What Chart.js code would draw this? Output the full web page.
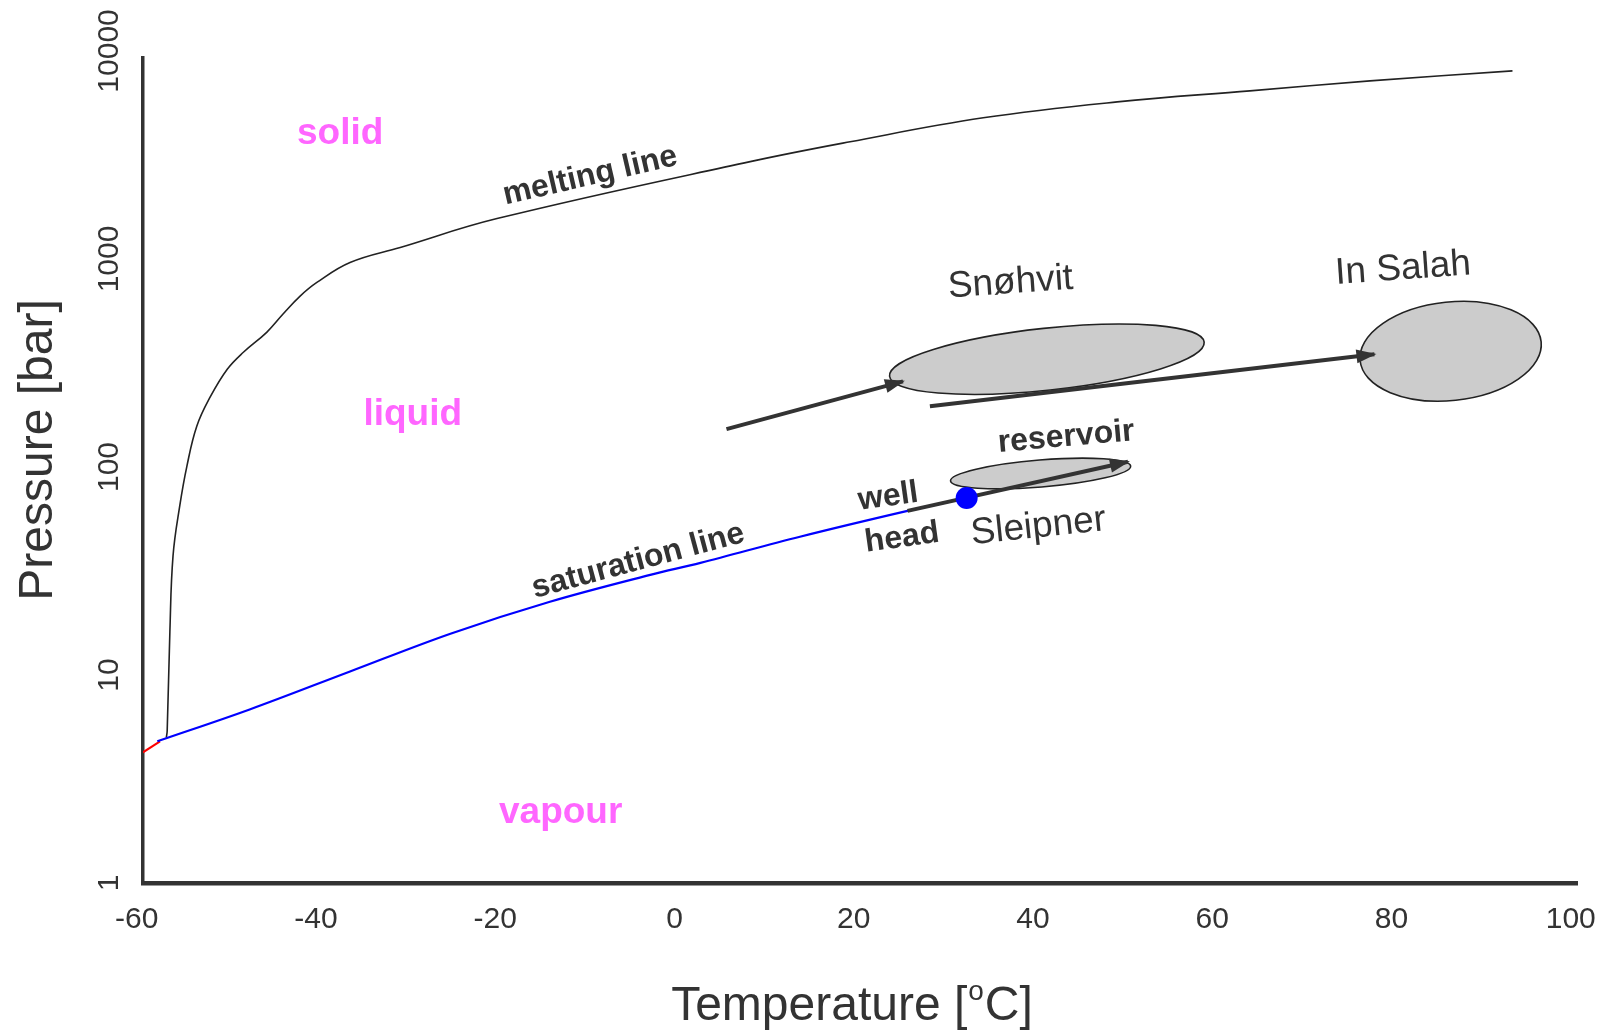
<!DOCTYPE html>
<html>
<head>
<meta charset="utf-8">
<title>CO2 phase diagram</title>
<script src="https://cdn.jsdelivr.net/npm/chart.js@4"></script>
<style>
  html, body { margin: 0; padding: 0; background: #fff; }
  #wrap { width: 1604px; height: 1032px; }
</style>
</head>
<body>
<div id="wrap"><canvas id="myChart" width="1604" height="1032"></canvas></div>
<script>
// axis ticks
const xTicks = [-60, -40, -20, 0, 20, 40, 60, 80, 100];
const yTicks = [1, 10, 100, 1000, 10000];

// melting line, T [C] / P [bar]
const meltT = [-56.7, -56.6, -56.3, -55.95, -55.2, -54.4, -53.3, -51.8, -49.9, -48.1, -45.5, -43.7,
               -41.8, -39.9, -36.2, -30.6, -19.8, 8.45, 19.6, 34.45, 49.4, 64.2, 77.6, 93.5];
const meltP = [5.0, 5.4, 16.2, 37.4, 65, 101, 157, 217, 295, 356, 444, 542,
               661, 771, 962, 1136, 1564, 2937, 3660, 4770, 5690, 6430, 7180, 8020];

// saturation line (vapour / liquid)
const satT = [-57.7, -47.4, -36.2, -25.0, -13.9, -2.7, 2.9, 14.0, 26.0, 32.6];
const satP = [4.8, 6.83, 10.4, 15.8, 22.5, 30.3, 34.6, 46.2, 61.5, 71];

// sublimation line (bit left of the triple point)
const sublT = [-59.3, -57.4];
const sublP = [4.25, 4.8];

// critical point
const critT = [32.6];
const critP = [71];

// injection paths: start -> end
const pathNames = ["Sleipner", "Snøhvit", "In Salah"];
const pathT0 = [26.0, 5.8, 28.5];
const pathP0 = [61.5, 152, 196];
const pathT1 = [50.6, 25.5, 78.1];
const pathP1 = [106, 258, 348];

// reservoir fields (ellipses): two tips and thickness in decades of P
const fieldT1 = [30.8, 24.0, 76.5];
const fieldP1 = [85.7, 273, 324];
const fieldT2 = [50.9, 59.1, 96.7];
const fieldP2 = [101, 398, 400];
const fieldSpan = [0.065, 0.149, 0.237];

// labels
const regionNames = ["solid", "liquid", "vapour"];
const regionT = [-37.3, -29.2, -12.7];
const regionP = [3990, 178, 2.17];

const lineLabels = ["melting line", "saturation line", "well", "head", "reservoir"];
const lineLabelT = [-9.4, -4.05, 23.85, 25.4, 43.7];
const lineLabelP = [2506, 35.3, 71.8, 45.6, 139];

const siteLabels = ["Snøhvit", "In Salah", "Sleipner"];
const siteT = [37.5, 81.3, 40.6];
const siteP = [767, 895, 51.5];

const FONT = '"Liberation Sans", Arial, Helvetica, sans-serif';
const DARK = "#333333";

function pts(xs, ys) {
    return xs.map((x, i) => ({ x: x, y: ys[i] }));
}

function drawLabel(ctx, str, x, y, font, color, deg) {
    ctx.save();
    ctx.translate(x, y);
    ctx.rotate(deg * Math.PI / 180);
    ctx.font = font;
    ctx.fillStyle = color;
    ctx.textAlign = "center";
    ctx.textBaseline = "middle";
    ctx.fillText(str, 0, 0);
    ctx.restore();
}

const extras = {
    id: "extras",
    beforeDatasetsDraw(chart) {
        const ctx = chart.ctx;
        const xs = chart.scales.x, ys = chart.scales.y;
        const decade = ys.getPixelForValue(1) - ys.getPixelForValue(10);
        for (let i = 0; i < fieldT1.length; i++) {
            const x1 = xs.getPixelForValue(fieldT1[i]), y1 = ys.getPixelForValue(fieldP1[i]);
            const x2 = xs.getPixelForValue(fieldT2[i]), y2 = ys.getPixelForValue(fieldP2[i]);
            const a = Math.hypot(x2 - x1, y2 - y1) / 2;
            const b = fieldSpan[i] * decade;
            ctx.save();
            ctx.beginPath();
            ctx.ellipse((x1 + x2) / 2, (y1 + y2) / 2, a, b, Math.atan2(y2 - y1, x2 - x1), 0, Math.PI * 2);
            ctx.fillStyle = "#cccccc";
            ctx.fill();
            ctx.lineWidth = 1.6;
            ctx.strokeStyle = "#222222";
            ctx.stroke();
            ctx.restore();
        }
    },
    afterDatasetsDraw(chart) {
        const ctx = chart.ctx;
        const xs = chart.scales.x, ys = chart.scales.y;
        const area = chart.chartArea;

        // arrow heads on the injection paths
        chart.data.datasets.forEach((ds, i) => {
            if (!ds.arrow) return;
            const pts = chart.getDatasetMeta(i).data;
            const p0 = pts[pts.length - 2], p1 = pts[pts.length - 1];
            const ang = Math.atan2(p1.y - p0.y, p1.x - p0.x);
            ctx.save();
            ctx.translate(p1.x, p1.y);
            ctx.rotate(ang);
            ctx.beginPath();
            ctx.moveTo(2, 0);
            ctx.lineTo(-18, -7);
            ctx.lineTo(-18, 7);
            ctx.closePath();
            ctx.fillStyle = DARK;
            ctx.fill();
            ctx.restore();
        });

        // region names
        regionNames.forEach((s, i) => {
            drawLabel(ctx, s, xs.getPixelForValue(regionT[i]), ys.getPixelForValue(regionP[i]),
                      "bold 37px " + FONT, "#ff66ff", 0);
        });
        const lineAngles = [-13, -15, -8, -8, -5];
        lineLabels.forEach((s, i) => {
            drawLabel(ctx, s, xs.getPixelForValue(lineLabelT[i]), ys.getPixelForValue(lineLabelP[i]),
                      "bold 32px " + FONT, DARK, lineAngles[i]);
        });
        const siteAngles = [-4, -4, -6];
        siteLabels.forEach((s, i) => {
            drawLabel(ctx, s, xs.getPixelForValue(siteT[i]), ys.getPixelForValue(siteP[i]),
                      "37px " + FONT, DARK, siteAngles[i]);
        });

        // y tick labels, rotated
        ctx.save();
        ctx.font = "30px " + FONT;
        ctx.fillStyle = DARK;
        ctx.textAlign = "center";
        ctx.textBaseline = "alphabetic";
        yTicks.forEach(v => {
            ctx.save();
            ctx.translate(area.left - 25, ys.getPixelForValue(v));
            ctx.rotate(-Math.PI / 2);
            ctx.fillText(String(v), 0, 0);
            ctx.restore();
        });
        ctx.restore();

        // axis titles
        ctx.save();
        ctx.fillStyle = DARK;
        ctx.font = "48px " + FONT;
        ctx.textBaseline = "alphabetic";
        ctx.textAlign = "center";
        ctx.translate(area.left - 91, 450);
        ctx.rotate(-Math.PI / 2);
        ctx.fillText("Pressure [bar]", 0, 0);
        ctx.restore();

        ctx.save();
        ctx.fillStyle = DARK;
        ctx.textBaseline = "alphabetic";
        ctx.textAlign = "left";
        const big = "48px " + FONT, small = "28px " + FONT;
        ctx.font = big;
        const w1 = ctx.measureText("Temperature [").width;
        const w3 = ctx.measureText("C]").width;
        ctx.font = small;
        const w2 = ctx.measureText("o").width + 2;
        const cx = (area.left + area.right) / 2 - 8;
        const base = area.bottom + 137;
        let x0 = cx - (w1 + w2 + w3) / 2;
        ctx.font = big;
        ctx.fillText("Temperature [", x0, base);
        ctx.font = small;
        ctx.fillText("o", x0 + w1 + 1, base - 20);
        ctx.font = big;
        ctx.fillText("C]", x0 + w1 + w2, base);
        ctx.restore();
    }
};

const datasets = [
    {
        label: "critical point",
        data: pts(critT, critP),
        pointRadius: 11,
        pointBackgroundColor: "#0000ff",
        pointBorderWidth: 0,
        showLine: false
    }
];
pathNames.forEach((name, i) => {
    datasets.push({
        label: name + " path",
        data: [{ x: pathT0[i], y: pathP0[i] }, { x: pathT1[i], y: pathP1[i] }],
        borderColor: DARK,
        borderWidth: 4,
        pointRadius: 0,
        showLine: true,
        arrow: true
    });
});
datasets.push(
    {
        label: "saturation line",
        data: pts(satT, satP),
        borderColor: "#0000ff",
        borderWidth: 2.2,
        pointRadius: 0,
        showLine: true,
        tension: 0.35
    },
    {
        label: "sublimation line",
        data: pts(sublT, sublP),
        borderColor: "#ff0000",
        borderWidth: 2,
        pointRadius: 0,
        showLine: true
    },
    {
        label: "melting line",
        data: pts(meltT, meltP),
        borderColor: "#222222",
        borderWidth: 1.6,
        pointRadius: 0,
        showLine: true,
        tension: 0.4
    }
);

const ctx = document.getElementById("myChart").getContext("2d");
const chart = new Chart(ctx, {
    type: "scatter",
    data: { datasets: datasets },
    options: {
        responsive: false,
        animation: false,
        devicePixelRatio: 1,
        layout: { padding: { left: 0, top: 58, right: 27, bottom: 0 } },
        plugins: {
            legend: { display: false },
            tooltip: { enabled: false }
        },
        scales: {
            x: {
                type: "linear",
                min: -59.3,
                max: 100.7,
                afterBuildTicks: scale => { scale.ticks = xTicks.map(v => ({ value: v })); },
                afterFit: scale => {
                    scale.height = 149;
                    scale.paddingLeft = 0;
                    scale.paddingRight = 0;
                },
                grid: { display: false, drawTicks: false },
                border: { display: true, color: DARK, width: 4.5 },
                ticks: {
                    padding: 19,
                    color: DARK,
                    font: { family: FONT, size: 30 },
                    callback: v => String(v)
                }
            },
            y: {
                type: "logarithmic",
                min: 1,
                max: 9250,
                afterBuildTicks: scale => { scale.ticks = yTicks.map(v => ({ value: v })); },
                afterFit: scale => { scale.width = 143; },
                grid: { display: false, drawTicks: false },
                border: { display: true, color: DARK, width: 3.5 },
                ticks: { display: false }
            }
        }
    },
    plugins: [extras]
});
</script>
</body>
</html>
